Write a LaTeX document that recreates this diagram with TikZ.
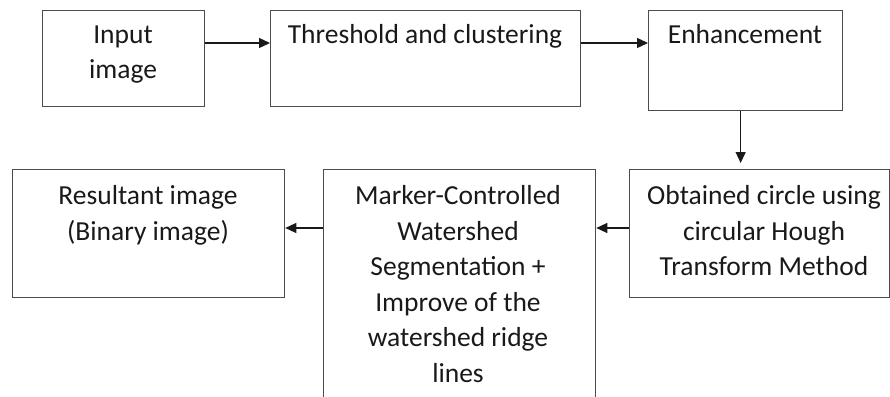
\documentclass[tikz,border=0pt]{standalone}
\usepackage{fontspec}
\setmainfont{Carlito}
\usetikzlibrary{arrows.meta}
\begin{document}
\begin{tikzpicture}[x=1pt,y=-1pt,
  box/.style={draw=black!70, line width=1.3pt, anchor=north west, inner sep=0pt},
  txt/.style={anchor=north, align=center, inner sep=0pt, font=\fontsize{27.5}{35.5}\selectfont, text=black!90},
  arr/.style={-{Triangle[length=11pt,width=10pt]}, line width=1.3pt, draw=black!90}]
\useasboundingbox (0,0) rectangle (890,396);
\node[box, minimum width=162pt, minimum height=96pt] (in) at (42,10) {};
\node[box, minimum width=310pt, minimum height=96pt] (th) at (270,10) {};
\node[box, minimum width=194pt, minimum height=100pt] (en) at (648,10) {};
\node[box, minimum width=260pt, minimum height=128pt] (ob) at (629,169) {};
\node[box, minimum width=272pt, minimum height=260pt] (mk) at (323,169) {};
\node[box, minimum width=272pt, minimum height=128pt] (rs) at (12,169) {};
\node[txt] (tin) at (123,18) {\strut Input\\image};
\node[txt] (tth) at (425,18) {\strut Threshold and clustering};
\node[txt] (ten) at (745,18) {\strut Enhancement};
\node[txt] (tob) at (764,179.5) {\strut Obtained circle using\\circular Hough\\Transform Method};
\node[txt] (tmk) at (458,179.5) {\strut Marker-Controlled\\Watershed\\Segmentation +\\Improve of the\\watershed ridge\\lines};
\node[txt] (trs) at (148,179.5) {\strut Resultant image\\(Binary image)};
\draw[arr] ([yshift=-33pt]in.north east) -- ([yshift=-33pt]th.north west);
\draw[arr] ([yshift=-33pt]th.north east) -- ([yshift=-33pt]en.north west);
\draw[arr, shorten >=6pt] ([xshift=-5pt]en.south) -- ([xshift=-5pt]en.south |- ob.north);
\draw[arr] ([yshift=-59pt]ob.north west) -- ([yshift=-59pt]mk.north east);
\draw[arr] ([yshift=-59pt]mk.north west) -- ([yshift=-59pt]rs.north east);
\end{tikzpicture}
\end{document}
